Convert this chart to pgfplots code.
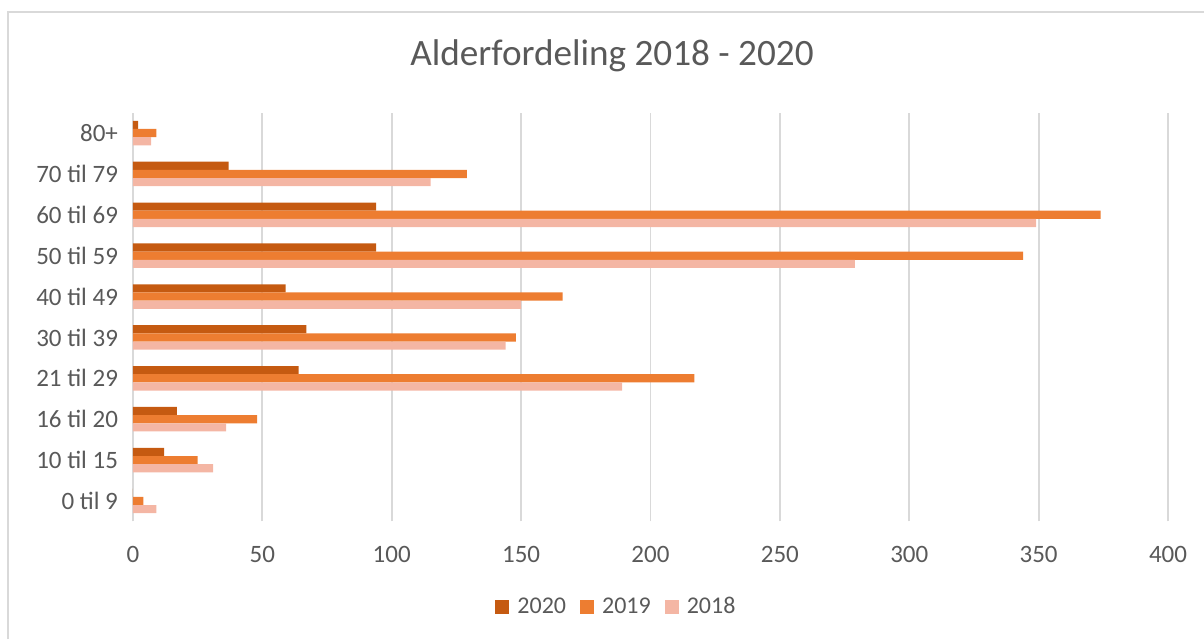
\documentclass[border=0pt]{standalone}
\usepackage{pgfplots}
\pgfplotsset{compat=1.18}
\usepackage{pgfplotstable}
\usepackage{fontspec}
\setmainfont{Carlito}
\definecolor{cA}{HTML}{C55A11}
\definecolor{cB}{HTML}{ED7D31}
\definecolor{cC}{HTML}{F4B6A4}
\definecolor{txt}{HTML}{595959}
\definecolor{grd}{HTML}{D9D9D9}
\pgfplotstableread{
idx v2020 v2019 v2018
0 0 4 9
1 12 25 31
2 17 48 36
3 64 217 189
4 67 148 144
5 59 166 150
6 94 344 279
7 94 374 349
8 37 129 115
9 2 9 7
}\data
\begin{document}
\begin{tikzpicture}
\path[use as bounding box] (0pt,0pt) rectangle (602pt,319.5pt);
\draw[grd,line width=1pt] (4pt,0pt) -- (4pt,313.5pt) -- (602pt,313.5pt);
\node[text=txt,font=\fontsize{18.6}{22}\selectfont] at (306pt,291.5pt) {Alderfordeling 2018 - 2020};
\begin{axis}[
  at={(66.5pt,58.8pt)}, anchor=south west,
  scale only axis, width=517.5pt, height=204.4pt,
  xbar, bar width=0.2,
  xmin=0, xmax=400, ymin=-0.5, ymax=9.5,
  xtick={0,50,...,400},
  ytick={0,...,9},
  yticklabels={0 til 9,10 til 15,16 til 20,21 til 29,30 til 39,40 til 49,50 til 59,60 til 69,70 til 79,80+},
  xmajorgrids, grid style={grd,line width=0.9pt},
  axis lines*=left,
  x axis line style={draw=none},
  y axis line style={grd,line width=0.9pt,-},
  every tick/.style={draw=none},
  major tick length=0pt,
  /pgf/number format/assume math mode=true,
  ticklabel style={text=txt,font=\fontsize{12.5}{15}\selectfont},
  xticklabel style={yshift=-9pt},
  yticklabel style={xshift=-4pt},
  legend style={at={(0.4676,-0.2094)}, anchor=center, draw=none, fill=none,
    legend columns=3, font=\fontsize{12}{14}\selectfont, text=txt,
    /tikz/every odd column/.append style={column sep=2.5pt},
    /tikz/every even column/.append style={column sep=5.5pt},
    nodes={inner sep=1.5pt}},
  legend cell align=left,
  legend image code/.code={\path[#1,draw=none] (0pt,-3.5pt) rectangle (7pt,3.5pt);},
]
\addplot[fill=cA,draw=none,bar shift=0.2] table[x=v2020,y=idx]{\data};
\addplot[fill=cB,draw=none,bar shift=0] table[x=v2019,y=idx]{\data};
\addplot[fill=cC,draw=none,bar shift=-0.2] table[x=v2018,y=idx]{\data};
\legend{2020,2019,2018}
\end{axis}
\end{tikzpicture}
\end{document}
